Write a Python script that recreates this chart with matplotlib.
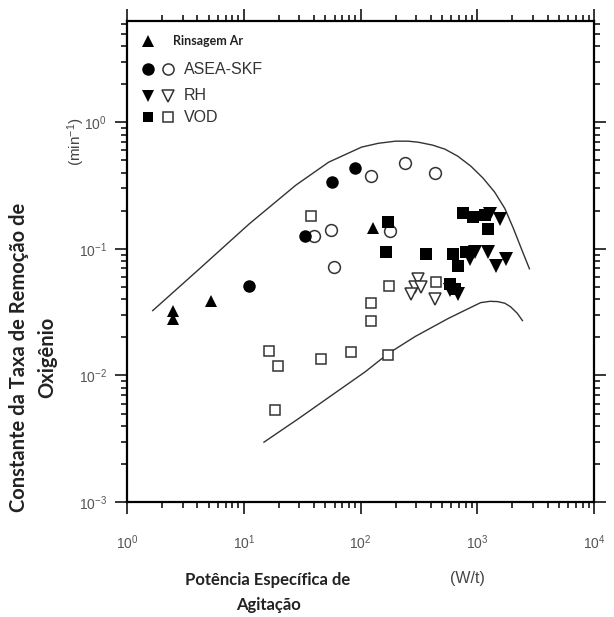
import matplotlib
matplotlib.use("Agg")
import matplotlib.pyplot as plt
from matplotlib.ticker import FixedLocator, NullFormatter

plt.rcParams['font.family'] = ['Liberation Sans', 'DejaVu Sans']
plt.rcParams['mathtext.fontset'] = 'custom'
plt.rcParams['mathtext.rm'] = 'Liberation Sans'
plt.rcParams['mathtext.it'] = 'Liberation Sans'

# Rinsagem com argônio (triângulos cheios)
ar_x = [2.5, 2.5, 5.2, 129]
ar_y = [0.032, 0.028, 0.039, 0.146]

# ASEA-SKF
asea_cheio_x = [11.1, 33.4, 56.6, 88.9]
asea_cheio_y = [0.051, 0.126, 0.337, 0.434]
asea_vazio_x = [39.8, 55.6, 58.9, 124, 242, 435, 180]
asea_vazio_y = [0.126, 0.141, 0.072, 0.376, 0.475, 0.397, 0.139]

# RH
rh_cheio_x = [1554, 1277, 952, 864, 1228, 1437, 1748, 682, 583]
rh_cheio_y = [0.172, 0.188, 0.095, 0.083, 0.095, 0.073, 0.083, 0.044, 0.047]
rh_vazio_x = [312, 294, 272, 331, 435]
rh_vazio_y = [0.058, 0.050, 0.044, 0.050, 0.040]

# VOD
vod_cheio_x = [173, 166, 365, 753, 916, 1158, 1228, 619, 682, 798, 583, 644]
vod_cheio_y = [0.163, 0.095, 0.091, 0.192, 0.179, 0.185, 0.144, 0.091, 0.073,
               0.095, 0.053, 0.048]
vod_vazio_x = [37.5, 177, 124, 124, 443, 16.5, 19.7, 18.5, 45.7, 82.2, 173]
vod_vazio_y = [0.182, 0.051, 0.037, 0.027, 0.055, 0.0157, 0.0118, 0.0053,
               0.0134, 0.0152, 0.0146]

# curvas limite
sup_x = [1.66, 4.18, 11.1, 28.0, 53.4, 102, 142, 199, 255, 312, 414,
         529, 680, 881, 1118, 1408, 1720, 2046, 2390, 2798]
sup_y = [0.0325, 0.0696, 0.157, 0.319, 0.484, 0.636, 0.682, 0.709,
         0.709, 0.696, 0.660, 0.613, 0.540, 0.450, 0.363, 0.281, 0.209,
         0.144, 0.100, 0.0696]
inf_x = [14.9, 29.7, 56.6, 110, 173, 294, 561, 800, 1071, 1290, 1493, 1720,
         1927, 2200, 2439]
inf_y = [0.00297, 0.00458, 0.00696, 0.0107, 0.0149, 0.0203, 0.0281, 0.0330,
         0.0376, 0.0385, 0.0383, 0.0372, 0.0349, 0.0310, 0.0271]

W, H = 614, 617
fig = plt.figure(figsize=(W / 100, H / 100), dpi=100)
ax = fig.add_axes([127 / W, 1 - 502 / H, 467 / W, 481 / H])
ax.set_xscale('log')
ax.set_yscale('log')

# ticks secundários 2..9 de cada década
menores_x = [k * 10.0 ** e for e in range(0, 4) for k in range(2, 10)]
menores_y = [k * 10.0 ** e for e in range(-3, 1) for k in range(2, 10)]
ax.xaxis.set_minor_locator(FixedLocator(menores_x))
ax.yaxis.set_minor_locator(FixedLocator(menores_y))
ax.xaxis.set_minor_formatter(NullFormatter())
ax.yaxis.set_minor_formatter(NullFormatter())
ax.set_xlim(1, 1e4)
ax.set_ylim(1e-3, 10 ** 0.8)

ax.tick_params(which='both', direction='out', top=True, right=True,
               color='black', width=1.1)
ax.tick_params(which='major', length=8.5, labelsize=10, labelcolor='#555555',
               pad=6)
ax.tick_params(which='minor', length=4)
ax.tick_params(axis='x', which='major', pad=14)
for s in ax.spines.values():
    s.set_linewidth(1.6)

cor = '#333333'
ax.plot(sup_x, sup_y, color=cor, lw=1.0)
ax.plot(inf_x, inf_y, color=cor, lw=1.0)

cheio = dict(linestyle='none', color='black', markeredgewidth=0)
vazio = dict(linestyle='none', markerfacecolor='white', markeredgecolor=cor,
             markeredgewidth=1.1)

ax.plot(vod_vazio_x, vod_vazio_y, marker='s', ms=7.5, **vazio)
ax.plot(rh_vazio_x, rh_vazio_y, marker='v', ms=8.5, **vazio)
ax.plot(asea_vazio_x, asea_vazio_y, marker='o', ms=8.5, **vazio)
ax.plot(ar_x, ar_y, marker='^', ms=9, **cheio)
ax.plot(asea_cheio_x, asea_cheio_y, marker='o', ms=9, **cheio)
ax.plot(vod_cheio_x, vod_cheio_y, marker='s', ms=8.5, **cheio)
ax.plot(rh_cheio_x, rh_cheio_y, marker='v', ms=9.5, **cheio)

ax.set_xlim(1, 1e4)
ax.set_ylim(1e-3, 10 ** 0.8)

# legenda desenhada à mão, em coordenadas do eixo
def px(x, y):
    return (x - 127) / 467, (502 - y) / 481

leg = [(41, '^', None, 'Rinsagem Ar'),
       (69, 'o', 'o', 'ASEA-SKF'),
       (96, 'v', 'v', 'RH'),
       (117, 's', 's', 'VOD')]
for y, m1, m2, txt in leg:
    x0, y0 = px(148, y)
    ax.plot([x0], [y0], marker=m1, ms=9 if m1 != 's' else 7.5,
            transform=ax.transAxes, **cheio)
    if m2:
        x1, y1 = px(168, y)
        ax.plot([x1], [y1], marker=m2, ms=8 if m2 != 's' else 6.5,
                transform=ax.transAxes, **vazio)
        ax.text(*px(184, y), txt, transform=ax.transAxes, ha='left',
                va='center', fontsize=11.5, color='#333333')
    else:
        ax.text(*px(173, y), txt, transform=ax.transAxes, ha='left',
                va='center', fontsize=9, fontweight='bold', family='Lato',
                color='#222222')

fig.text(19 / W, 1 - 357 / H, 'Constante da Taxa de Remoção de', rotation=90,
         ha='center', va='center', fontsize=14.5, fontweight='bold',
         family='Lato', color='#222222')
fig.text(47 / W, 1 - 357 / H, 'Oxigênio', rotation=90, ha='center',
         va='center', fontsize=14.5, fontweight='bold', family='Lato',
         color='#222222')
fig.text(76 / W, 1 - 142 / H, '(min$^{-1}$)', rotation=90, ha='center',
         va='center', fontsize=11, color='#444444')
fig.text(268 / W, 1 - 580 / H, 'Potência Específica de', ha='center',
         va='center', fontsize=12, fontweight='bold', family='Lato',
         color='#222222')
fig.text(268 / W, 1 - 605 / H, 'Agitação', ha='center', va='center',
         fontsize=12, fontweight='bold', family='Lato', color='#222222')
fig.text(467 / W, 1 - 578 / H, '(W/t)', ha='center', va='center',
         fontsize=11.5, color='#444444')

fig.savefig('out.png', dpi=100)
